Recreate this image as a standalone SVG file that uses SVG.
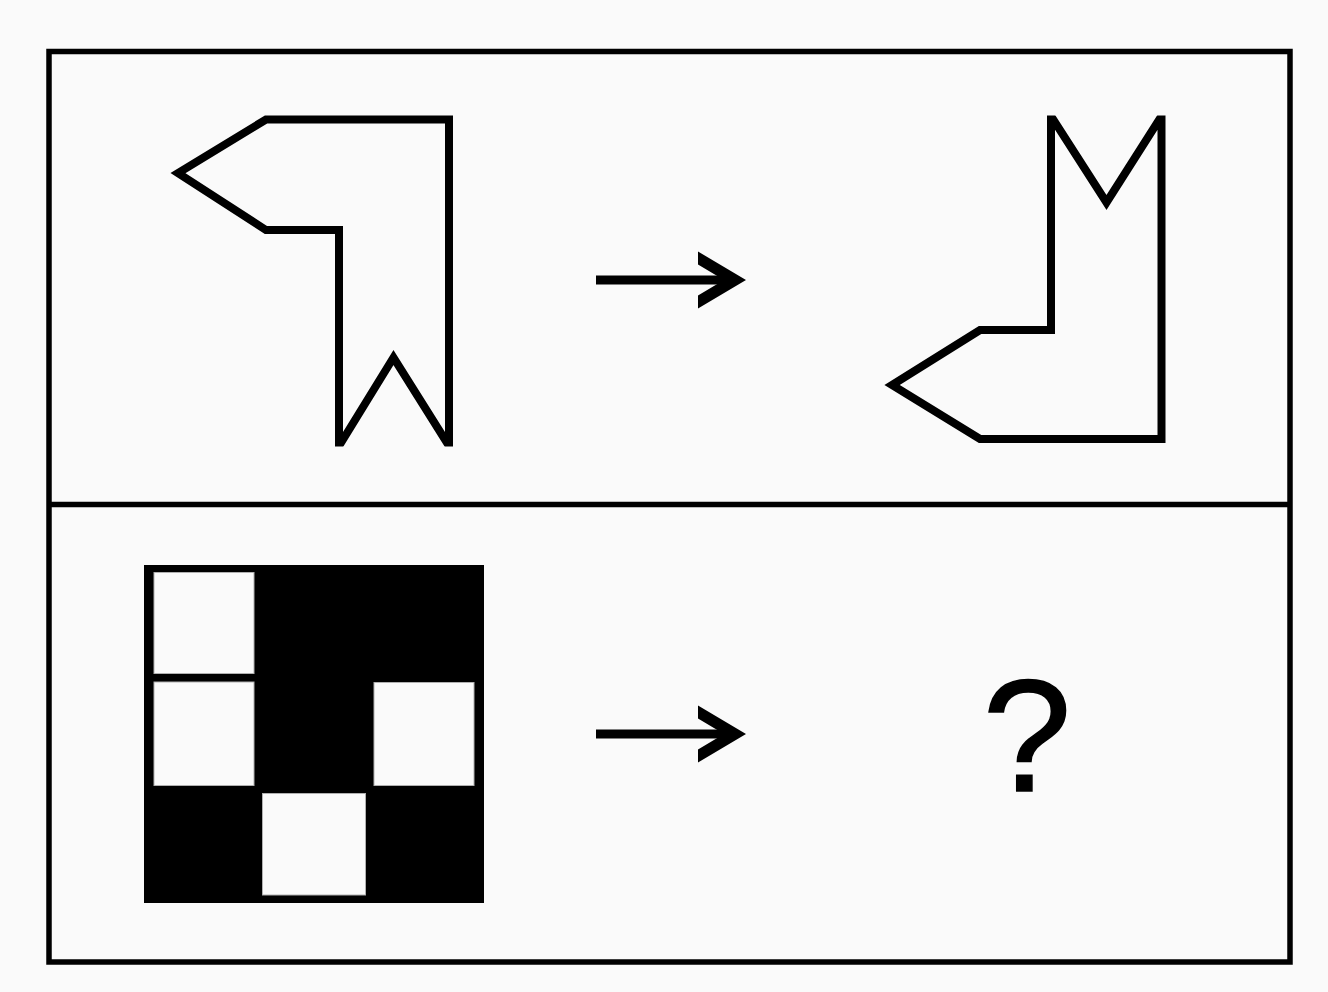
<svg xmlns="http://www.w3.org/2000/svg" width="1328" height="992" viewBox="0 0 1328 992">
  <style>
    .frame { fill: none; stroke: #000; stroke-width: 5.5; }
    .shape { fill: #fafafa; stroke: #000; stroke-width: 8; stroke-linejoin: miter; stroke-miterlimit: 10; }
    .cell { fill: #fafafa; stroke: #b0b0b0; stroke-width: 1; }
    .ink { fill: #000; }
    .q { font-family: "Liberation Sans", Arial, sans-serif; font-size: 160px; fill: #000; stroke: #000; stroke-width: 1.5; }
  </style>
  <defs>
    <clipPath id="clipL"><rect x="0" y="0" width="700" height="446.5"/></clipPath>
    <clipPath id="clipR"><rect x="700" y="115.5" width="600" height="400"/></clipPath>
    <g id="arrowShape">
      <rect x="596" y="275.5" width="140" height="9"/>
      <polygon points="698,251.5 746,280 698,308.5 698,295.5 724,280 698,264.5"/>
    </g>
  </defs>
  <rect x="0" y="0" width="1328" height="992" fill="#fafafa"/>
  <g id="frame">
    <rect class="frame" x="49" y="51.5" width="1241" height="910.5"/>
    <line class="frame" x1="49" y1="504.5" x2="1290" y2="504.5"/>
  </g>
  <g id="shape-left" clip-path="url(#clipL)">
    <path class="shape" d="M339,446 L339,230 L266,230 L178,173 L266,119.5 L449,119.5 L449,446 L393.5,357.5 Z"/>
  </g>
  <g id="shape-right" clip-path="url(#clipR)">
    <path class="shape" d="M1051,116 L1051,330 L980,330 L892,385 L980,439 L1161.5,439 L1161.5,116 L1106.5,202.5 Z"/>
  </g>
  <g id="grid">
    <rect class="ink" x="144" y="565" width="340" height="338"/>
    <rect class="cell" x="154" y="572.5" width="100" height="101"/>
    <rect class="cell" x="154" y="682" width="100" height="103.5"/>
    <rect class="cell" x="374" y="682.5" width="100" height="103"/>
    <rect class="cell" x="262.5" y="793.5" width="103" height="101.5"/>
  </g>
  <g id="question">
    <text class="q" x="1027" y="791" text-anchor="middle">?</text>
  </g>
  <g id="connectors" class="ink">
    <use href="#arrowShape"/>
    <use href="#arrowShape" transform="translate(0,454)"/>
  </g>
</svg>
